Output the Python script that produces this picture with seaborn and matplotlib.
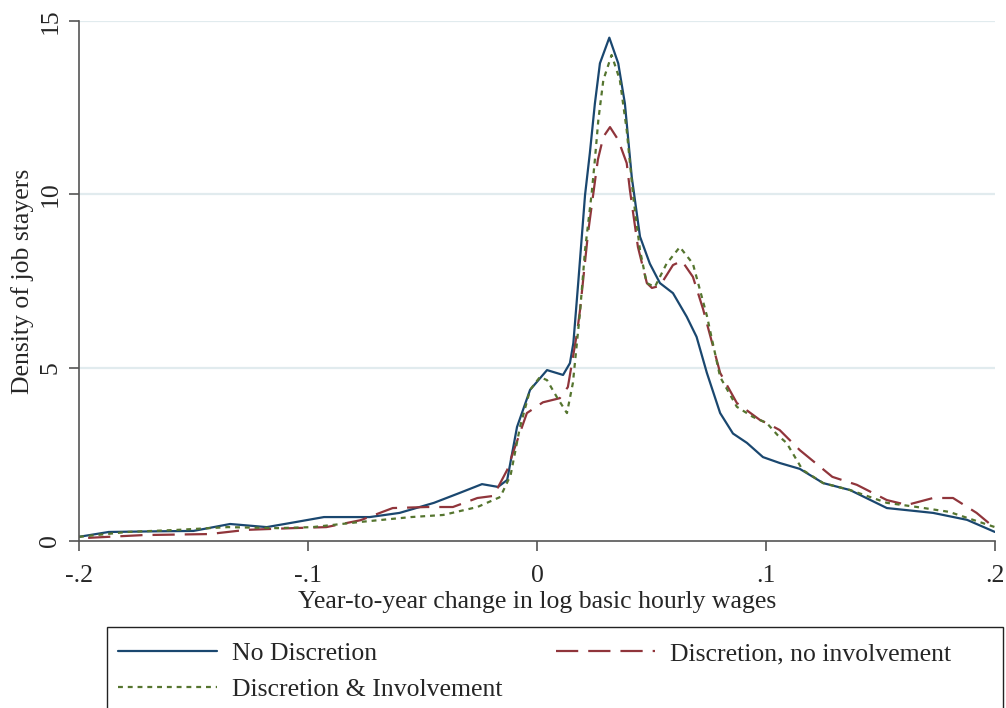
import numpy as np
import pandas as pd
import matplotlib
matplotlib.use("Agg")
import matplotlib.pyplot as plt
from matplotlib.patches import Rectangle
import seaborn as sns

# values
no_disc_x = [-0.2, -0.187, -0.165, -0.150, -0.134, -0.118, -0.105, -0.093, -0.073, -0.060,
             -0.045, -0.034, -0.024, -0.017, -0.013, -0.0087, -0.003, 0.0044, 0.0114, 0.0144,
             0.0159, 0.018, 0.021, 0.0231, 0.0253, 0.0275, 0.0316, 0.0355, 0.0384, 0.0414,
             0.045, 0.0493, 0.0537, 0.0594, 0.0654, 0.0697, 0.0742, 0.080, 0.0856, 0.0917,
             0.0987, 0.106, 0.1148, 0.125, 0.1367, 0.1528, 0.173, 0.1878, 0.2]
no_disc_y = [0.12, 0.26, 0.28, 0.29, 0.49, 0.40, 0.55, 0.69, 0.69, 0.81,
             1.10, 1.38, 1.64, 1.56, 1.76, 3.29, 4.36, 4.93, 4.79, 5.13,
             5.71, 7.43, 9.98, 11.19, 12.62, 13.78, 14.52, 13.78, 12.62, 10.5,
             8.78, 8.0, 7.44, 7.15, 6.47, 5.89, 4.85, 3.69, 3.1, 2.83,
             2.42, 2.25, 2.08, 1.67, 1.47, 0.95, 0.81, 0.61, 0.26]

no_inv_x = [-0.196, -0.172, -0.143, -0.127, -0.107, -0.092, -0.077, -0.063, -0.048, -0.0367,
            -0.026, -0.019, -0.013, -0.0105, -0.0044, 0.0026, 0.010, 0.0135, 0.0175, 0.0188,
            0.0223, 0.0266, 0.029, 0.0319, 0.0355, 0.0392, 0.0406, 0.0441, 0.048, 0.0502,
            0.0537, 0.0594, 0.0633, 0.0681, 0.0725, 0.080, 0.0873, 0.0974, 0.1004, 0.106,
            0.1148, 0.129, 0.1397, 0.1528, 0.1616, 0.173, 0.1817, 0.192, 0.2]
no_inv_y = [0.09, 0.17, 0.20, 0.32, 0.37, 0.40, 0.60, 0.95, 0.98, 0.98,
            1.24, 1.30, 2.05, 2.54, 3.69, 4.00, 4.12, 4.44, 6.0, 6.66,
            8.88, 11.0, 11.66, 11.94, 11.57, 10.9, 10.12, 8.48, 7.44, 7.3,
            7.36, 7.96, 8.08, 7.62, 6.7, 4.85, 3.98, 3.49, 3.4, 3.2,
            2.62, 1.85, 1.62, 1.18, 1.04, 1.24, 1.24, 0.81, 0.37]

inv_x = [-0.2, -0.179, -0.157, -0.135, -0.1135, -0.098, -0.077, -0.055, -0.041, -0.026,
         -0.016, -0.0115, -0.0074, -0.003, 0.0013, 0.0044, 0.0087, 0.0131, 0.0157, 0.0188,
         0.021, 0.0239, 0.0253, 0.0268, 0.029, 0.0326, 0.0362, 0.0392, 0.0421, 0.045,
         0.0479, 0.0515, 0.0566, 0.0624, 0.0681, 0.0742, 0.080, 0.0873, 0.0943, 0.1004,
         0.105, 0.109, 0.116, 0.125, 0.1367, 0.1528, 0.166, 0.180, 0.2]
inv_y = [0.12, 0.26, 0.32, 0.40, 0.37, 0.40, 0.55, 0.69, 0.75, 0.98,
         1.27, 1.9, 3.29, 4.36, 4.73, 4.64, 4.15, 3.69, 4.56, 6.6,
         8.39, 10.03, 11.0, 12.14, 13.3, 14.02, 13.3, 11.85, 9.9, 8.39,
         7.44, 7.33, 8.0, 8.48, 8.0, 6.5, 4.73, 3.87, 3.58, 3.4,
         3.06, 2.83, 2.05, 1.67, 1.47, 1.1, 0.98, 0.84, 0.4]

x_ticks = [-0.2, -0.1, 0, 0.1, 0.2]
x_tick_labels = ["-.2", "-.1", "0", ".1", ".2"]
y_ticks = [0, 5, 10, 15]

sns.set_style("white")
plt.rcParams["font.family"] = ["Liberation Serif", "DejaVu Serif"]
fs = 18.5

fig = plt.figure(figsize=(10.06, 7.08), dpi=100)
ax = fig.add_axes([0.0785, 0.2359, 0.9105, 0.7344])

sns.lineplot(x=no_disc_x, y=no_disc_y, color="#1a476f", linewidth=1.6,
             label="No Discretion", ax=ax)
sns.lineplot(x=no_inv_x, y=no_inv_y, color="#90353b", linewidth=1.6,
             label="Discretion, no involvement", ax=ax)
sns.lineplot(x=inv_x, y=inv_y, color="#55752f", linewidth=1.6,
             label="Discretion & Involvement", ax=ax)
ax.lines[1].set_dashes([10, 4.5])
ax.lines[2].set_dashes([2.2, 2.2])

ax.set_xlim(-0.2, 0.2)
ax.set_ylim(0, 15)
ax.set_xticks(x_ticks)
ax.set_xticklabels(x_tick_labels)
ax.set_yticks(y_ticks)
ax.set_yticklabels([str(v) for v in y_ticks], rotation=90, va="center")
ax.tick_params(axis="both", direction="out", length=7.2, width=1.2,
               color="#555555", labelsize=fs, left=True, bottom=True)
ax.tick_params(axis="x", pad=10)
ax.tick_params(axis="y", pad=5.5)
for y in y_ticks[1:]:
    ax.axhline(y, color="#e1ebee", linewidth=1.6, zorder=0)
for side in ["top", "right"]:
    ax.spines[side].set_visible(False)
for side in ["left", "bottom"]:
    ax.spines[side].set_color("#555555")
    ax.spines[side].set_linewidth(1.2)

ax.set_xlabel("Year-to-year change in log basic hourly wages", fontsize=fs, labelpad=3)
ax.set_ylabel("Density of job stayers", fontsize=fs, labelpad=4)

# legend box (runs past the bottom edge, as in the reference)
handles, labels = ax.get_legend_handles_labels()
ax.get_legend().remove()
fig.patches.append(Rectangle((107 / 1006, -0.05), 896 / 1006, 0.05 + 81 / 708,
                             transform=fig.transFigure, fill=False,
                             edgecolor="#222222", linewidth=1.0))
order = [0, 2, 1]
fig.legend(
    [handles[i] for i in order], [labels[i] for i in order],
    loc="upper left", bbox_to_anchor=(118 / 1006, 1 - 642 / 708),
    ncol=2, fontsize=fs, frameon=False, handlelength=3.85,
    handletextpad=0.58, columnspacing=2.1, borderaxespad=0, borderpad=0,
    labelspacing=0.5,
)

plt.savefig("out.png", dpi=100)
